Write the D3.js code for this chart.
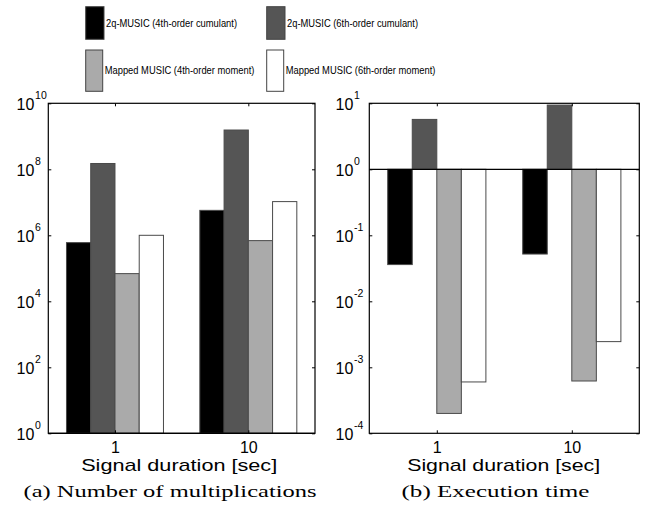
<!DOCTYPE html>
<html>
<head>
<meta charset="utf-8">
<script src="https://cdn.jsdelivr.net/npm/d3@7"></script>
<style>
  body { margin: 0; background: #fff; }
  svg { display: block; }
  text { font-family: "Liberation Sans", Arial, sans-serif; fill: #000; }
  .caption { font-family: "Liberation Serif", "Times New Roman", serif; }
</style>
</head>
<body>
<div id="chart"></div>
<script>
// categories on the x axis (signal duration in seconds)
const categories = ["1", "10"];

// the four methods, in bar order
const seriesNames = [
    "2q-MUSIC (4th-order cumulant)",
    "2q-MUSIC (6th-order cumulant)",
    "Mapped MUSIC (4th-order moment)",
    "Mapped MUSIC (6th-order moment)"
];
const seriesColors = ["#000000", "#555555", "#aaaaaa", "#ffffff"];

// (a) number of multiplications, one row per method, one value per category
const multiplications = [
    [6.0e5, 5.7e6],
    [1.5e8, 1.55e9],
    [6.9e4, 6.9e5],
    [1.0e6, 1.05e7]
];

// (b) execution time, same layout
const executionTime = [
    [0.036, 0.052],
    [5.7, 9.4],
    [2.0e-4, 6.2e-4],
    [6.0e-4, 2.45e-3]
];

const multTicks = [1e0, 1e2, 1e4, 1e6, 1e8, 1e10];
const timeTicks = [1e-4, 1e-3, 1e-2, 1e-1, 1e0, 1e1];

const width = 646, height = 509;
const svg = d3.select("#chart").append("svg")
    .attr("width", width)
    .attr("height", height);

// ---- legend ----
let legendCols = [85.7, 266.7];
let legendRows = [{y: 6.7, h: 32.6, w: 18.3}, {y: 50, h: 41.3, w: 17}];
let legend = svg.append("g").attr("class", "legend");
let legendTexts = [];
seriesNames.forEach((name, i) => {
    let col = i % 2, row = Math.floor(i / 2);
    let r = legendRows[row];
    let lx = legendCols[col];
    legend.append("rect")
        .attr("x", lx).attr("y", r.y)
        .attr("width", r.w).attr("height", r.h)
        .attr("fill", seriesColors[i])
        .attr("stroke", "#444")
        .attr("stroke-width", 1);
    legendTexts.push(legend.append("text")
        .attr("x", lx + r.w + 2)
        .attr("y", r.y + r.h / 2 + 3.7)
        .attr("font-size", "10.5px")
        .text(name));
});
// the legend lettering is a bit narrower than the font: squeeze to match
let squeeze = 131 / legendTexts[0].node().getComputedTextLength();
legendTexts.forEach(t => {
    t.attr("textLength", t.node().getComputedTextLength() * squeeze)
     .attr("lengthAdjust", "spacingAndGlyphs");
});

function supLabel(g, value, baseOffset) {
    // "10" with the exponent as a superscript
    let exp = Math.round(Math.log10(value));
    g.append("text")
        .attr("x", -baseOffset)
        .attr("y", 5.7)
        .attr("text-anchor", "end")
        .attr("font-size", "16px")
        .text("10");
    g.append("text")
        .attr("x", -baseOffset + 0.8)
        .attr("y", -5)
        .attr("text-anchor", "start")
        .attr("font-size", "10.5px")
        .text(exp < 0 ? "-" + (-exp) : exp);
}

function drawPanel(opts) {
    let g = svg.append("g");
    let x = d3.scaleLinear().domain([0.5, 2.5]).range([opts.left, opts.right]);
    let y = d3.scaleLog().domain(opts.yDomain).range([opts.bottom, opts.top]);

    let groupWidth = 4 / 5.5;
    let barW = groupWidth / 4;

    // bars, with baseline at 10^0
    opts.data.forEach((row, s) => {
        g.selectAll(null)
            .data(row)
            .enter()
            .append("rect")
            .attr("x", (d, i) => x(i + 1 - groupWidth / 2 + s * barW))
            .attr("width", x(barW) - x(0))
            .attr("y", d => Math.min(y(d), y(1)))
            .attr("height", d => Math.abs(y(d) - y(1)))
            .attr("fill", seriesColors[s])
            .attr("stroke", "#4a4a4a")
            .attr("stroke-width", 1);
    });

    // baseline
    g.append("line")
        .attr("x1", opts.left).attr("x2", opts.right)
        .attr("y1", y(1)).attr("y2", y(1))
        .attr("stroke", "#000").attr("stroke-width", 1.2);

    // box
    g.append("rect")
        .attr("x", opts.left).attr("y", opts.top)
        .attr("width", opts.right - opts.left)
        .attr("height", opts.bottom - opts.top)
        .attr("fill", "none")
        .attr("stroke", "#000")
        .attr("stroke-width", 1.2);

    // inward ticks on all four sides
    let yl = g.append("g").attr("transform", `translate(${opts.left},0)`)
        .call(d3.axisLeft(y).tickValues(opts.ticks).tickSizeInner(-3).tickSizeOuter(0).tickFormat(""));
    let yr = g.append("g").attr("transform", `translate(${opts.right},0)`)
        .call(d3.axisRight(y).tickValues(opts.ticks).tickSizeInner(-3).tickSizeOuter(0).tickFormat(""));
    let xb = g.append("g").attr("transform", `translate(0,${opts.bottom})`)
        .call(d3.axisBottom(x).tickValues([1, 2]).tickSizeInner(-3).tickSizeOuter(0)
            .tickPadding(8).tickFormat((d, i) => categories[i]));
    let xt = g.append("g").attr("transform", `translate(0,${opts.top})`)
        .call(d3.axisTop(x).tickValues([1, 2]).tickSizeInner(-3).tickSizeOuter(0).tickFormat(""));

    [yl, yr, xb, xt].forEach(a => {
        a.select(".domain").remove();
        a.selectAll(".tick line").attr("stroke", "#000");
    });
    xb.selectAll(".tick text")
        .attr("font-size", "16px")
        .attr("font-family", "Liberation Sans, Arial, sans-serif");

    yl.selectAll(".tick").each(function(d) {
        d3.select(this).select("text").remove();
        supLabel(d3.select(this), d, opts.labelOffset);
    });

    // axis title and caption, stretched to the original widths
    g.append("text")
        .attr("x", opts.titleX).attr("y", 470.7)
        .attr("text-anchor", "middle")
        .attr("font-size", "17px")
        .attr("textLength", opts.titleLen)
        .attr("lengthAdjust", "spacingAndGlyphs")
        .text("Signal duration [sec]");
    g.append("text")
        .attr("class", "caption")
        .attr("x", opts.captionX).attr("y", 496.7)
        .attr("text-anchor", "middle")
        .attr("font-size", "17px")
        .attr("textLength", opts.captionLen)
        .attr("lengthAdjust", "spacingAndGlyphs")
        .text(opts.caption);
}

drawPanel({
    left: 48.3, right: 315, top: 103.3, bottom: 433.3,
    yDomain: [1e0, 1e10], ticks: multTicks, data: multiplications,
    labelOffset: 14,
    titleX: 179.2, titleLen: 196,
    captionX: 170, captionLen: 293,
    caption: "(a) Number of multiplications"
});

drawPanel({
    left: 369.3, right: 639.3, top: 103.3, bottom: 433.3,
    yDomain: [1e-4, 1e1], ticks: timeTicks, data: executionTime,
    labelOffset: 16,
    titleX: 503.7, titleLen: 193,
    captionX: 495.5, captionLen: 188,
    caption: "(b) Execution time"
});
</script>
</body>
</html>
